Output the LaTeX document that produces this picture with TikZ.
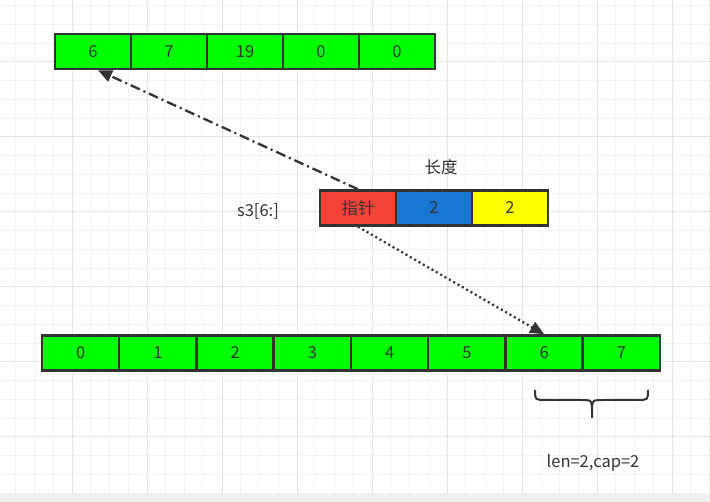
\documentclass[tikz,border=0pt]{standalone}
\usepackage{fontspec}
\setmainfont{Noto Sans CJK SC}
\usetikzlibrary{arrows.meta}

\definecolor{ink}{HTML}{333333}
\definecolor{cellgreen}{HTML}{00FF00}
\definecolor{ptrred}{HTML}{F44336}
\definecolor{lenblue}{HTML}{1976D2}
\definecolor{capyellow}{HTML}{FFFF00}
\definecolor{gridminor}{HTML}{F2F2F2}
\definecolor{gridmajor}{HTML}{E4E4E4}

\tikzset{
  cell/.style={draw=ink, line width=2.5pt, fill=cellgreen, minimum height=35pt,
    inner sep=0pt, text=ink, font=\fontsize{16.5}{16.5}\selectfont},
  lbl/.style={text=ink, inner sep=0pt, font=\fontsize{16.5}{16.5}\selectfont},
  tip/.style={-{Triangle[length=14pt,width=12pt]}, draw=ink, line width=2.3pt},
}

\begin{document}
\begin{tikzpicture}[x=1pt,y=-1pt]
\useasboundingbox (0,0) rectangle (710,502);
\fill[white] (0,0) rectangle (710,494);
\fill[gray!12] (0,494) rectangle (710,502);
% grid
\foreach \gx in {-3,15.75,...,710} \draw[gridminor, line width=1pt] (\gx,0) -- (\gx,494);
\foreach \gy in {5.75,24.5,...,494} \draw[gridminor, line width=1pt] (0,\gy) -- (710,\gy);
\foreach \gx in {-3,72,...,710} \draw[gridmajor, line width=1pt] (\gx,0) -- (\gx,494);
\foreach \gy in {62,137,...,494} \draw[gridmajor, line width=1pt] (0,\gy) -- (710,\gy);

% backing array
\foreach \v [count=\i from 0] in {6,7,19,0,0}
  \node[cell, minimum width=76pt] (top\i) at (93+76*\i,51.5) {\v};

% slice header
\node[cell, minimum width=76pt, fill=ptrred] (ptr) at (358,208) {指针};
\node[cell, minimum width=76pt, fill=lenblue] (len) at (434,208) {2};
\node[cell, minimum width=76pt, fill=capyellow] (cap) at (510,208) {2};
\node[lbl] (lenname) at (441,167) {长度};
\node[lbl] (slicename) at (258,211) {s3[6:]};

% new array
\foreach \v [count=\i from 0] in {0,...,7}
  \node[cell, minimum width=77.25pt] (bot\i) at (80.6+77.25*\i,353) {\v};

\draw[tip, dash pattern=on 10pt off 4pt on 2pt off 4pt] (ptr.north) -- (top0.-75);
\draw[tip, dash pattern=on 2pt off 3pt] (ptr.south) -- (bot6.north);

% brace
\coordinate (bl) at (535,390);
\coordinate (br) at (648,390);
\coordinate (bmid) at (592,411);
\coordinate (btip) at (592,418);
\draw[ink, line width=2pt]
  (bl) .. controls (535,400) .. (546,400) -- (580,400) .. controls (592,400) .. (bmid) -- (btip)
  (br) .. controls (648,400) .. (637,400) -- (604,400) .. controls (592,400) .. (bmid);
\node[lbl] (lencap) at (593,463) {len=2,cap=2};
\end{tikzpicture}
\end{document}
